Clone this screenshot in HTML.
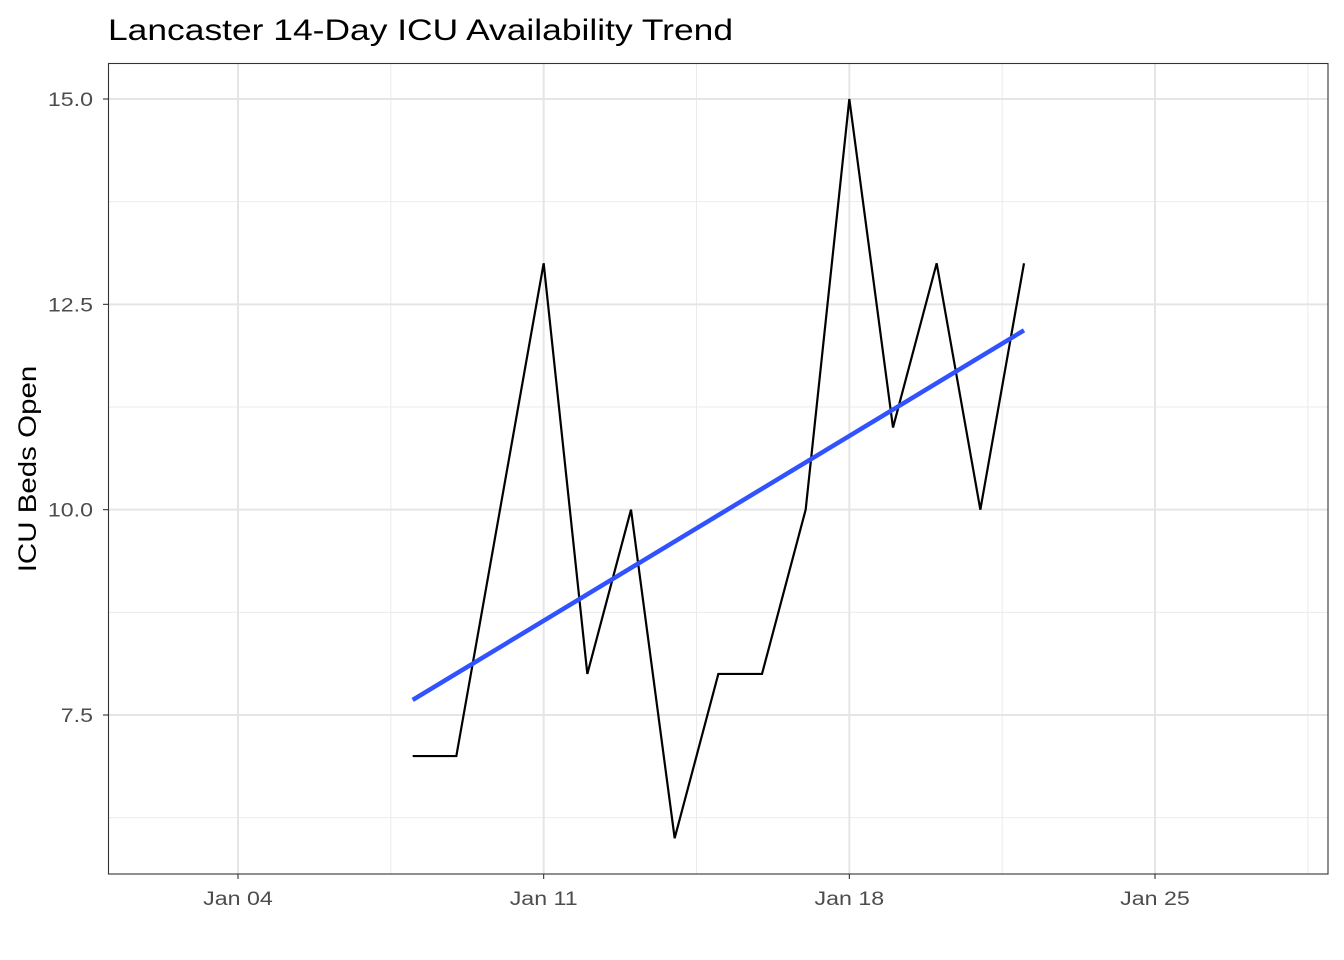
<!DOCTYPE html>
<html><head><meta charset="utf-8">
<style>
html,body{margin:0;padding:0;background:#fff;}
svg{display:block;font-family:"Liberation Sans",Arial,sans-serif;}
</style></head>
<body>
<svg id="chart" width="1344" height="960" viewBox="0 0 1344 960">
<text id="title" x="108" y="40" font-size="30" fill="#000">Lancaster 14-Day ICU Availability Trend</text>
<g id="grid"></g>
<g id="marks"></g>
<rect x="108.5" y="63.5" width="1219.5" height="810.5" fill="none" stroke="#333" stroke-width="1.1"/>
<g id="axes"></g>
<text id="ytitle" transform="translate(36,469) rotate(-90)" text-anchor="middle" font-size="25" fill="#000">ICU Beds Open</text>
</svg>
<script>
const days = [8,9,10,11,12,13,14,15,16,17,18,19,20,21,22];
const beds = [7,7,10,13,8,10,6,8,8,10,15,11,13,10,13];
const xTickDays = [4,11,18,25];
const xTickLabels = ["Jan 04","Jan 11","Jan 18","Jan 25"];
const xMinorDays = [7.5,14.5,21.5,28.5];
const yTicks = [7.5,10.0,12.5,15.0];
const yTickLabels = ["7.5","10.0","12.5","15.0"];
const yMinor = [6.25,8.75,11.25,13.75];

const L=108,R=1328,T=63,B=874;
const pxPerDay=(1155-238)/21;
const xS=d=>238+(d-4)*pxPerDay;
const pxPerUnit=(715-99)/7.5;
const yS=v=>715-(v-7.5)*pxPerUnit;
const NS="http://www.w3.org/2000/svg";
function mk(tag,attrs,parent){const e=document.createElementNS(NS,tag);for(const k in attrs)e.setAttribute(k,attrs[k]);parent.appendChild(e);return e;}
function widen(el,f){const w=el.getComputedTextLength();el.setAttribute('textLength',(w*f).toFixed(1));el.setAttribute('lengthAdjust','spacingAndGlyphs');}
const grid=document.getElementById('grid'),marks=document.getElementById('marks'),axes=document.getElementById('axes');

yMinor.forEach(v=>{const l=mk('line',{x1:L,x2:R,y1:yS(v),y2:yS(v),stroke:'#ebebeb','stroke-width':1},grid);

});
xMinorDays.forEach(d=>{const l=mk('line',{x1:xS(d),x2:xS(d),y1:T,y2:B,stroke:'#ebebeb','stroke-width':1},grid);

});
yTicks.forEach((v,i)=>{const y=yS(v);
const l=mk('line',{x1:L,x2:R,y1:y,y2:y,stroke:'#e5e5e5','stroke-width':2},grid);


const t=mk('line',{x1:L-5,x2:L,y1:y,y2:y,stroke:'#333','stroke-width':1.1},axes);


const tx=mk('text',{x:L-15,y:y+7,'text-anchor':'end','font-size':19,fill:'#4d4d4d'},axes);tx.textContent=yTickLabels[i];


widen(tx,1.22);});
xTickDays.forEach((d,i)=>{const x=xS(d);
const l=mk('line',{x1:x,x2:x,y1:T,y2:B,stroke:'#e5e5e5','stroke-width':2},grid);


const t=mk('line',{x1:x,x2:x,y1:B,y2:B+5,stroke:'#333','stroke-width':1.1},axes);


const tx=mk('text',{x:x,y:B+31,'text-anchor':'middle','font-size':19,fill:'#4d4d4d'},axes);tx.textContent=xTickLabels[i];


widen(tx,1.22);});

widen(document.getElementById('title'),1.18);
widen(document.getElementById('ytitle'),1.18);

const line=mk('polyline',{points:days.map((d,i)=>xS(d)+','+yS(beds[i])).join(' '),fill:'none',stroke:'#000','stroke-width':2.2,'stroke-linejoin':'miter'},marks);



const n=days.length,mx=days.reduce((a,b)=>a+b)/n,my=beds.reduce((a,b)=>a+b)/n;
let sxy=0,sxx=0;days.forEach((d,i)=>{sxy+=(d-mx)*(beds[i]-my);sxx+=(d-mx)*(d-mx);});
const slope=sxy/sxx,ic=my-slope*mx;
const d0=days[0],d1=days[n-1];
const tr=mk('line',{x1:xS(d0),y1:yS(ic+slope*d0),x2:xS(d1),y2:yS(ic+slope*d1),stroke:'#3152ff','stroke-width':4.5},marks);


</script>
</body></html>
